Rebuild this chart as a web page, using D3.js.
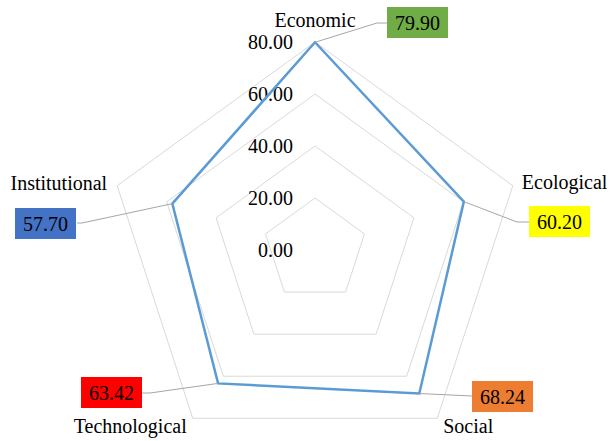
<!DOCTYPE html>
<html><head><meta charset="utf-8">
<script src="https://cdn.jsdelivr.net/npm/d3@7"></script>
<style>body{margin:0;background:#fff}svg{display:block}</style>
</head><body>
<script>
const categories = ["Economic", "Ecological", "Social", "Technological", "Institutional"];
const values = [79.90, 60.20, 68.24, 63.42, 57.70];
const labelColors = ["#70AD47", "#FFFF00", "#ED7D31", "#FF0000", "#4472C4"];
const tickValues = [0, 20, 40, 60, 80];

const W = 612, H = 441, cx = 315, cy = 250, R = 208;
const font = "'Liberation Serif','Times New Roman',serif";
const svg = d3.select("body").append("svg").attr("width", W).attr("height", H);
const r = d3.scaleLinear().domain([0, 80]).range([0, R]);
const ang = d3.scaleLinear().domain([0, categories.length]).range([0, 2 * Math.PI]);
const pt = (i, v) => [cx + r(v) * Math.sin(ang(i)), cy - r(v) * Math.cos(ang(i))];

// grid pentagons
const line = d3.line();
tickValues.filter(t => t > 0).forEach(t => {
  svg.append("path")
    .attr("d", line(categories.map((c, i) => pt(i, t))) + "Z")
    .attr("fill", "none").attr("stroke", "#D9D9D9").attr("stroke-width", 1);
});

// tick labels
svg.selectAll("text.tick").data(tickValues).enter().append("text")
  .attr("x", 293).attr("y", d => cy - r(d) + 7)
  .attr("text-anchor", "end").attr("font-family", font).attr("font-size", 20)
  .attr("fill", "#000").text(d => d.toFixed(2));

// data line
svg.append("path")
  .attr("d", line(values.map((v, i) => pt(i, v))) + "Z")
  .attr("fill", "none").attr("stroke", "#5B9BD5").attr("stroke-width", 2.5)
  .attr("stroke-linejoin", "miter");

// category labels (layout relative to outer vertices)
const catLayout = [
  {dx: 0, dy: -15, anchor: "middle"},
  {dx: 9, dy: 3, anchor: "start"},
  {dx: 6, dy: 15, anchor: "start"},
  {dx: -6, dy: 15, anchor: "end"},
  {dx: -10, dy: 4, anchor: "end"}
];
categories.forEach((c, i) => {
  const [x, y] = pt(i, 80);
  svg.append("text").attr("x", x + catLayout[i].dx).attr("y", y + catLayout[i].dy)
    .attr("text-anchor", catLayout[i].anchor).attr("font-family", font)
    .attr("font-size", 20).attr("fill", "#000").text(c);
});

// data labels with leader lines
const boxW = 61, boxH = 31;
const boxLayout = [
  {bx: 387, by: 7, elbow: [377, 23], end: [387, 23]},
  {bx: 529, by: 206, elbow: [517, 222], end: [529, 222]},
  {bx: 472, by: 381, elbow: null, end: [472, 396]},
  {bx: 81, by: 377, elbow: [150, 393], end: [142, 393]},
  {bx: 15, by: 208, elbow: [82, 223], end: [77, 223]}
];
values.forEach((v, i) => {
  const p = pt(i, v), L = boxLayout[i];
  const pts = [p];
  if (L.elbow) pts.push(L.elbow);
  pts.push(L.end);
  svg.append("path").attr("d", line(pts)).attr("fill", "none")
    .attr("stroke", "#A6A6A6").attr("stroke-width", 1);
  svg.append("rect").attr("x", L.bx).attr("y", L.by).attr("width", boxW).attr("height", boxH)
    .attr("fill", labelColors[i]);
  svg.append("text").attr("x", L.bx + boxW / 2).attr("y", L.by + boxH / 2 + 7)
    .attr("text-anchor", "middle").attr("font-family", font).attr("font-size", 20)
    .attr("fill", "#000").text(v.toFixed(2));
});
</script>
</body></html>
